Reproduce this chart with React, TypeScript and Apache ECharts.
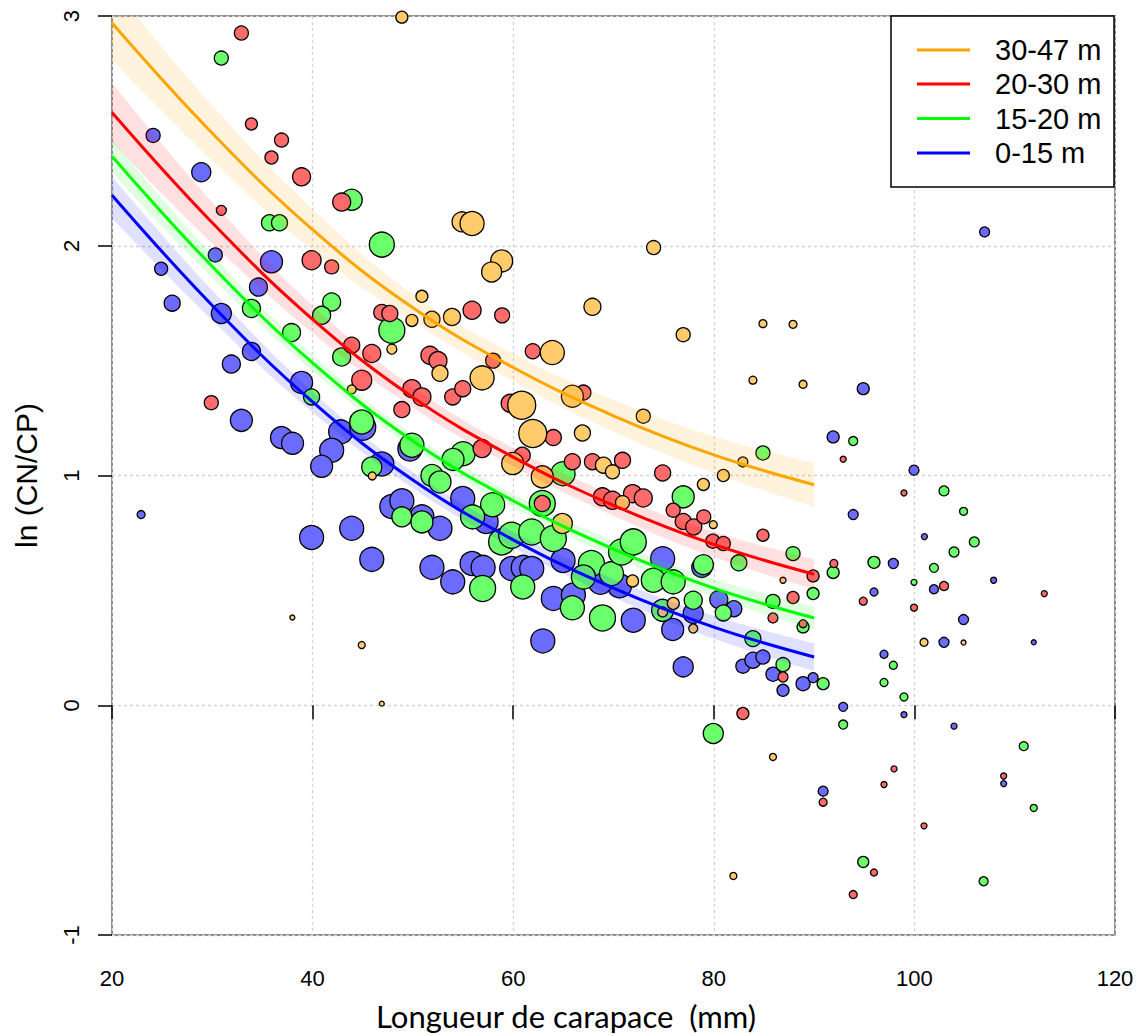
import React, { useEffect, useRef } from "react";
import * as echarts from "echarts";

// ---------- data ----------
const xTicks = [20, 40, 60, 80, 100, 120];
const yTicks = [-1, 0, 1, 2, 3];

const legendLabels = ["30-47 m", "20-30 m", "15-20 m", "0-15 m"];
const xTitle = "Longueur de carapace  (mm)";
const yTitle = "ln (CN/CP)";

// fitted curves
const curveX = [20, 30, 40, 50, 60, 70, 80, 90];
const orangeFit = [2.97, 2.49, 2.07, 1.73, 1.47, 1.26, 1.09, 0.96];
const orangeLo = [2.81, 2.37, 1.98, 1.67, 1.41, 1.19, 1.01, 0.865];
const orangeHi = [3.13, 2.61, 2.16, 1.79, 1.53, 1.33, 1.17, 1.055];
const redFit = [2.58, 2.1, 1.68, 1.34, 1.08, 0.87, 0.7, 0.57];
const redLo = [2.45, 2.01, 1.62, 1.295, 1.04, 0.825, 0.645, 0.505];
const redHi = [2.71, 2.19, 1.74, 1.385, 1.12, 0.915, 0.755, 0.635];
const greenFit = [2.39, 1.91, 1.49, 1.15, 0.89, 0.68, 0.51, 0.38];
const greenLo = [2.32, 1.86, 1.455, 1.12, 0.86, 0.645, 0.47, 0.33];
const greenHi = [2.46, 1.96, 1.525, 1.18, 0.92, 0.715, 0.55, 0.43];
const blueFit = [2.22, 1.74, 1.32, 0.98, 0.72, 0.51, 0.34, 0.21];
const blueLo = [2.12, 1.675, 1.275, 0.945, 0.685, 0.47, 0.29, 0.15];
const blueHi = [2.3, 1.805, 1.365, 1.015, 0.755, 0.55, 0.39, 0.27];

// points: [carapace length, ln(CN/CP), marker diameter]
const bluePts = [
  [24.1, 2.48, 14], [28.9, 2.32, 19], [35.9, 1.93, 22], [30.3, 1.96, 14], [24.9, 1.9, 13],
  [26.0, 1.75, 16], [30.9, 1.705, 20], [34.6, 1.82, 18], [33.9, 1.54, 18], [31.9, 1.485, 18],
  [38.9, 1.405, 22], [32.9, 1.24, 22], [36.9, 1.165, 22], [38.0, 1.14, 22], [42.8, 1.19, 24],
  [45.0, 1.21, 26], [41.9, 1.11, 24], [40.9, 1.04, 22], [46.9, 1.05, 24], [49.7, 1.115, 24],
  [47.9, 0.865, 24], [48.9, 0.89, 24], [50.9, 0.82, 24], [52.7, 0.77, 24], [43.9, 0.77, 24],
  [39.9, 0.73, 24], [45.9, 0.635, 24], [51.9, 0.6, 24], [22.9, 0.83, 8], [54.97, 0.9, 24],
  [57.3, 0.8, 24], [55.9, 0.617, 24], [57.0, 0.6, 24], [53.97, 0.537, 24], [59.85, 0.595, 24],
  [61.0, 0.6, 24], [61.85, 0.595, 24], [64.97, 0.63, 24], [74.9, 0.638, 24], [70.6, 0.52, 24],
  [68.7, 0.535, 24], [64.0, 0.465, 24], [66.0, 0.48, 24], [71.97, 0.37, 24], [77.95, 0.4, 20],
  [62.95, 0.28, 24], [75.9, 0.33, 22], [76.95, 0.167, 20], [82.9, 0.17, 14], [83.9, 0.196, 16],
  [84.9, 0.21, 14], [85.9, 0.135, 14], [80.5, 0.46, 18], [82.0, 0.42, 16], [78.8, 0.6, 20],
  [107.0, 2.06, 10], [94.9, 1.378, 12], [91.9, 1.168, 12], [99.96, 1.023, 10], [93.9, 0.83, 10],
  [101.0, 0.734, 6], [97.9, 0.617, 10], [107.9, 0.544, 6], [101.95, 0.505, 9], [95.97, 0.493, 8],
  [104.9, 0.373, 10], [86.9, 0.065, 12], [88.9, 0.094, 14], [89.9, 0.12, 10], [96.97, 0.222, 8],
  [92.9, -0.007, 9], [98.96, -0.041, 6], [102.95, 0.274, 10], [111.9, 0.274, 5], [103.95, -0.091, 6],
  [108.9, -0.341, 6], [90.9, -0.374, 10],
];

const greenPts = [
  [30.9, 2.817, 14], [35.7, 2.1, 16], [36.7, 2.1, 16], [43.9, 2.2, 21], [46.9, 2.005, 25],
  [33.9, 1.727, 18], [41.9, 1.755, 18], [40.9, 1.697, 18], [37.9, 1.622, 18], [42.9, 1.516, 18],
  [47.9, 1.632, 26], [39.9, 1.342, 16], [44.9, 1.233, 24], [45.9, 1.037, 20], [49.9, 1.132, 24],
  [51.9, 1.0, 22], [52.7, 0.972, 22], [48.9, 0.82, 20], [50.9, 0.798, 22], [55.0, 1.095, 24],
  [54.0, 1.07, 22], [64.97, 1.008, 24], [62.9, 0.878, 26], [76.95, 0.907, 22], [84.9, 1.098, 14],
  [57.95, 0.873, 24], [55.95, 0.82, 24], [58.85, 0.711, 26], [59.85, 0.74, 26], [61.85, 0.754, 26],
  [64.0, 0.726, 26], [56.95, 0.508, 26], [60.95, 0.515, 24], [67.8, 0.617, 26], [67.0, 0.558, 24],
  [69.8, 0.573, 24], [70.8, 0.667, 26], [71.97, 0.711, 26], [73.97, 0.544, 24], [75.95, 0.537, 24],
  [65.9, 0.424, 24], [68.9, 0.38, 26], [77.95, 0.457, 18], [74.9, 0.413, 22], [80.95, 0.402, 16],
  [78.96, 0.612, 20], [85.9, 0.452, 14], [82.5, 0.62, 16], [83.9, 0.29, 16], [79.95, -0.123, 20],
  [87.9, 0.66, 14], [91.9, 0.578, 12], [89.9, 0.486, 12], [88.9, 0.341, 12], [86.9, 0.177, 14],
  [90.9, 0.094, 12], [93.9, 1.15, 9], [102.95, 0.933, 10], [104.9, 0.844, 8], [105.97, 0.711, 10],
  [103.95, 0.667, 10], [95.97, 0.622, 12], [101.95, 0.598, 9], [99.96, 0.535, 6], [97.9, 0.174, 8],
  [96.97, 0.099, 8], [98.96, 0.036, 8], [92.9, -0.084, 9], [110.9, -0.178, 9], [111.9, -0.447, 7],
  [94.9, -0.682, 11], [106.9, -0.766, 9],
];

const redPts = [
  [32.9, 2.926, 14], [33.9, 2.53, 12], [36.9, 2.46, 14], [35.9, 2.384, 13], [38.9, 2.3, 18],
  [42.9, 2.19, 18], [30.9, 2.154, 10], [39.9, 1.937, 19], [41.9, 1.908, 14], [46.9, 1.71, 16],
  [47.7, 1.705, 16], [55.9, 1.719, 18], [58.9, 1.697, 15], [43.9, 1.567, 16], [45.9, 1.531, 18],
  [44.9, 1.415, 20], [48.9, 1.287, 16], [49.9, 1.378, 18], [50.9, 1.342, 18], [51.7, 1.523, 18],
  [52.5, 1.5, 18], [29.9, 1.317, 14], [61.95, 1.541, 15], [53.97, 1.342, 16], [54.97, 1.378, 16],
  [58.0, 1.5, 15], [59.7, 1.314, 18], [67.0, 1.361, 15], [64.0, 1.165, 16], [56.9, 1.117, 18],
  [60.9, 1.088, 16], [65.9, 1.06, 16], [67.9, 1.06, 16], [70.9, 1.066, 16], [74.9, 1.011, 16],
  [62.9, 0.878, 16], [68.9, 0.907, 18], [69.9, 0.892, 18], [71.9, 0.921, 18], [72.97, 0.902, 18],
  [75.95, 0.849, 14], [76.95, 0.8, 16], [78.0, 0.776, 16], [79.0, 0.82, 14], [79.9, 0.714, 14],
  [80.95, 0.704, 14], [84.9, 0.74, 12], [85.9, 0.38, 10], [88.9, 0.355, 8], [86.9, 0.123, 10],
  [82.9, -0.036, 12], [92.9, 1.071, 6], [98.96, 0.924, 6], [91.97, 0.617, 8], [89.9, 0.563, 12],
  [102.95, 0.519, 9], [112.95, 0.486, 6], [87.9, 0.469, 12], [94.9, 0.453, 8], [99.96, 0.425, 7],
  [97.97, -0.277, 6], [96.97, -0.345, 6], [108.9, -0.308, 6], [90.9, -0.422, 8], [100.96, -0.525, 6],
  [95.97, -0.728, 7], [93.9, -0.824, 8],
];

const orangePts = [
  [48.9, 2.995, 12], [54.9, 2.104, 20], [55.9, 2.097, 24], [74.0, 1.992, 14], [58.85, 1.934, 22],
  [57.85, 1.886, 20], [67.9, 1.734, 17], [53.9, 1.69, 17], [50.9, 1.78, 12], [49.9, 1.675, 12],
  [51.9, 1.68, 16], [47.9, 1.55, 10], [43.9, 1.375, 9], [52.7, 1.445, 16], [45.95, 0.998, 8],
  [37.98, 0.382, 5], [84.9, 1.661, 8], [87.9, 1.658, 8], [76.95, 1.613, 14], [63.9, 1.535, 24],
  [56.9, 1.425, 24], [83.9, 1.415, 8], [88.9, 1.397, 8], [60.85, 1.306, 28], [65.9, 1.345, 22],
  [72.97, 1.258, 14], [61.95, 1.183, 28], [66.9, 1.185, 16], [59.95, 1.052, 22], [69.0, 1.045, 16],
  [69.9, 1.016, 14], [62.9, 0.994, 22], [78.96, 0.961, 12], [80.95, 1.0, 12], [82.9, 1.059, 10],
  [70.9, 0.882, 14], [64.9, 0.791, 20], [79.95, 0.786, 8], [71.9, 0.541, 12], [74.9, 0.406, 10],
  [75.96, 0.443, 12], [77.95, 0.334, 9], [86.9, 0.544, 6], [44.9, 0.262, 7], [46.9, 0.007, 5],
  [85.9, -0.225, 7], [81.95, -0.743, 7], [100.96, 0.274, 8], [104.9, 0.273, 5],
];

// ---------- styles ----------
const LINE_COLORS = ["#ffa500", "#ff0000", "#00ff00", "#0000ff"];
const FILL_COLORS = ["#ffcb6b", "#ff6b6b", "#6bff6b", "#6b6bff"];
const BAND_COLORS = [
  "rgba(255,165,0,0.13)",
  "rgba(255,0,0,0.12)",
  "rgba(0,255,0,0.12)",
  "rgba(0,0,255,0.12)",
];

const AXIS_FONT = "'Liberation Sans', Arial, sans-serif";

function scatterSeries(name: string, pts: number[][], fill: string, z: number) {
  return {
    type: "scatter",
    name,
    data: pts,
    symbol: "circle",
    symbolSize: (v: number[]) => v[2],
    itemStyle: { color: fill, borderColor: "#000", borderWidth: 1.3, opacity: 1 },
    z,
    silent: true,
  };
}

// band: data given as [y, x] so that the stacked dimension is y (dimension 0)
function bandSeries(key: string, lo: number[], hi: number[], color: string) {
  return [
    {
      type: "line",
      data: curveX.map((x, i) => [lo[i], x]),
      encode: { x: 1, y: 0 },
      stack: key,
      symbol: "none",
      smooth: 0.4,
      lineStyle: { opacity: 0, width: 0 },
      z: 4,
      silent: true,
    },
    {
      type: "line",
      data: curveX.map((x, i) => [hi[i] - lo[i], x]),
      encode: { x: 1, y: 0 },
      stack: key,
      symbol: "none",
      smooth: 0.4,
      lineStyle: { opacity: 0, width: 0 },
      areaStyle: { color, opacity: 1 },
      z: 4,
      silent: true,
    },
  ];
}

function fitSeries(fit: number[], color: string) {
  return {
    type: "line",
    data: curveX.map((x, i) => [x, fit[i]]),
    symbol: "none",
    smooth: 0.4,
    lineStyle: { color, width: 3 },
    z: 6,
    silent: true,
  };
}

export default function App() {
  const ref = useRef<HTMLDivElement>(null);

  useEffect(() => {
    document.body.style.margin = "0";
    if (!ref.current) return;
    const chart = echarts.init(ref.current, undefined, { renderer: "svg" });

    const graphics: any[] = [
      {
        type: "rect",
        shape: { x: 891, y: 16, width: 223, height: 171 },
        style: { fill: "#fff", stroke: "#000", lineWidth: 1.5 },
        z: 100,
      },
      {
        type: "text",
        x: 566,
        y: 1016,
        style: {
          text: xTitle,
          font: "31px Lato, 'Open Sans', sans-serif",
          fill: "#000",
          align: "center",
          verticalAlign: "middle",
        },
        z: 100,
      },
    ];
    const legendY = [50, 84, 118.5, 153];
    legendLabels.forEach((lab, i) => {
      graphics.push({
        type: "line",
        shape: { x1: 917, y1: legendY[i], x2: 970, y2: legendY[i] },
        style: { stroke: LINE_COLORS[i], lineWidth: 3 },
        z: 101,
      });
      graphics.push({
        type: "text",
        x: 995,
        y: legendY[i],
        style: {
          text: lab,
          font: `29px ${AXIS_FONT}`,
          fill: "#000",
          verticalAlign: "middle",
        },
        z: 101,
      });
    });

    const option: any = {
      animation: false,
      backgroundColor: "#fff",
      grid: {
        left: 112,
        right: 28,
        top: 16,
        bottom: 101,
        show: true,
        borderColor: "#8c8c8c",
        borderWidth: 2,
        backgroundColor: "transparent",
      },
      xAxis: {
        type: "value",
        min: 20,
        max: 120,
        interval: 20,
        axisLine: { show: false },
        axisTick: { show: true, length: 14, lineStyle: { color: "#000", width: 1.5 } },
        axisLabel: {
          fontFamily: AXIS_FONT,
          fontSize: 22,
          color: "#000",
          margin: 32,
          formatter: (v: number) => (xTicks.includes(v) ? String(v) : ""),
        },
        splitLine: { show: true, lineStyle: { color: "#d3d3d3", type: [3, 3], width: 1.3 } },
      },
      yAxis: {
        type: "value",
        min: -1,
        max: 3,
        interval: 1,
        name: yTitle,
        nameLocation: "middle",
        nameGap: 71,
        nameRotate: 90,
        nameTextStyle: { fontFamily: AXIS_FONT, fontSize: 30, color: "#000" },
        axisLine: { show: false },
        axisTick: { show: true, length: 14, lineStyle: { color: "#000", width: 1.5 } },
        axisLabel: {
          fontFamily: AXIS_FONT,
          fontSize: 22,
          color: "#000",
          rotate: 90,
          margin: 30,
          formatter: (v: number) => (yTicks.includes(v) ? String(v) : ""),
        },
        splitLine: { show: true, lineStyle: { color: "#d3d3d3", type: [3, 3], width: 1.3 } },
      },
      series: [
        scatterSeries("0-15 m", bluePts, FILL_COLORS[3], 2),
        scatterSeries("15-20 m", greenPts, FILL_COLORS[2], 2),
        scatterSeries("20-30 m", redPts, FILL_COLORS[1], 2),
        scatterSeries("30-47 m", orangePts, FILL_COLORS[0], 2),
        ...bandSeries("bo", orangeLo, orangeHi, BAND_COLORS[0]),
        ...bandSeries("br", redLo, redHi, BAND_COLORS[1]),
        ...bandSeries("bg", greenLo, greenHi, BAND_COLORS[2]),
        ...bandSeries("bb", blueLo, blueHi, BAND_COLORS[3]),
        fitSeries(orangeFit, LINE_COLORS[0]),
        fitSeries(redFit, LINE_COLORS[1]),
        fitSeries(greenFit, LINE_COLORS[2]),
        fitSeries(blueFit, LINE_COLORS[3]),
      ],
      graphic: graphics,
    };

    chart.setOption(option);
    return () => chart.dispose();
  }, []);

  return <div ref={ref} style={{ width: 1143, height: 1036 }} />;
}
